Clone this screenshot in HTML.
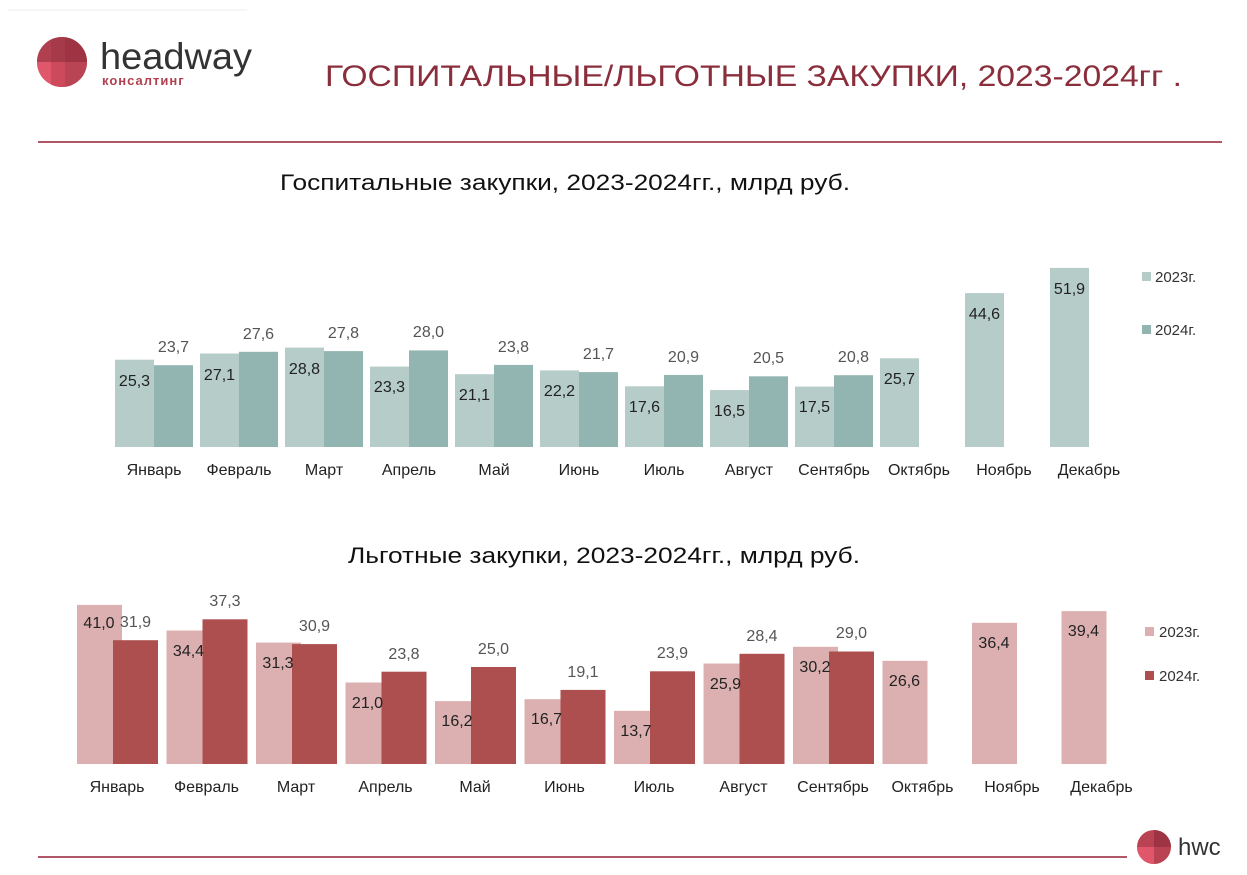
<!DOCTYPE html>
<html><head><meta charset="utf-8"><style>
body{margin:0;background:#fff;}
svg{display:block;font-family:"Liberation Sans","DejaVu Sans",sans-serif;}
</style></head><body>
<svg width="1247" height="875" viewBox="0 0 1247 875" xmlns="http://www.w3.org/2000/svg">
<line x1="8" y1="10" x2="247" y2="10" stroke="#eee" stroke-width="1"/>
<g>
<clipPath id="c1"><circle cx="62" cy="62" r="25"/></clipPath>
<g clip-path="url(#c1)">
<rect x="37" y="37" width="50" height="50" fill="#b94352"/>
<rect x="37" y="37" width="14" height="25" fill="#b04050"/>
<rect x="51" y="37" width="14" height="25" fill="#a63a48"/>
<rect x="65" y="37" width="22" height="25" fill="#9e3443"/>
<rect x="37" y="62" width="14" height="25" fill="#e0566a"/>
<rect x="51" y="62" width="14" height="25" fill="#cc4a5c"/>
<rect x="65" y="62" width="22" height="25" fill="#b84454"/>
</g>
<text x="100" y="69" font-size="37" fill="#333" textLength="152" lengthAdjust="spacingAndGlyphs">headway</text>
<text x="102" y="85" font-size="13" fill="#b04050" font-weight="bold" letter-spacing="1">консалтинг</text>
</g>
<text x="325" y="86" font-size="30" fill="#8b2e3c" textLength="857" lengthAdjust="spacingAndGlyphs">ГОСПИТАЛЬНЫЕ/ЛЬГОТНЫЕ ЗАКУПКИ, 2023-2024гг .</text>
<line x1="38" y1="142" x2="1222" y2="142" stroke="#b05868" stroke-width="2"/>
<text x="280" y="190" font-size="22" fill="#111" textLength="570" lengthAdjust="spacingAndGlyphs">Госпитальные закупки, 2023-2024гг., млрд руб.</text>

<g fill="#b5ccc8">
<rect x="115" y="359.7" width="39" height="87.3"/><rect x="200" y="353.5" width="39" height="93.5"/><rect x="285" y="347.6" width="39" height="99.4"/><rect x="370" y="366.6" width="39" height="80.4"/><rect x="455" y="374.2" width="39" height="72.8"/><rect x="540" y="370.4" width="39" height="76.6"/><rect x="625" y="386.3" width="39" height="60.7"/><rect x="710" y="390.1" width="39" height="56.9"/><rect x="795" y="386.6" width="39" height="60.4"/><rect x="880" y="358.3" width="39" height="88.7"/><rect x="965" y="293.1" width="39" height="153.9"/><rect x="1050" y="267.9" width="39" height="179.1"/>
</g>
<g fill="#93b5b1">
<rect x="154" y="365.2" width="39" height="81.8"/><rect x="239" y="351.8" width="39" height="95.2"/><rect x="324" y="351.1" width="39" height="95.9"/><rect x="409" y="350.4" width="39" height="96.6"/><rect x="494" y="364.9" width="39" height="82.1"/><rect x="579" y="372.1" width="39" height="74.9"/><rect x="664" y="374.9" width="39" height="72.1"/><rect x="749" y="376.3" width="39" height="70.7"/><rect x="834" y="375.2" width="39" height="71.8"/>
</g>
<g font-size="16" fill="#222" text-anchor="middle">
<text x="134.5" y="386">25,3</text><text x="219.5" y="380">27,1</text><text x="304.5" y="374">28,8</text><text x="389.5" y="392">23,3</text><text x="474.5" y="400">21,1</text><text x="559.5" y="396">22,2</text><text x="644.5" y="412">17,6</text><text x="729.5" y="416">16,5</text><text x="814.5" y="412">17,5</text><text x="899.5" y="384">25,7</text><text x="984.5" y="319">44,6</text><text x="1069.5" y="294">51,9</text>
</g>
<g font-size="16" fill="#555" text-anchor="middle">
<text x="173.5" y="352">23,7</text><text x="258.5" y="339">27,6</text><text x="343.5" y="338">27,8</text><text x="428.5" y="337">28,0</text><text x="513.5" y="352">23,8</text><text x="598.5" y="359">21,7</text><text x="683.5" y="362">20,9</text><text x="768.5" y="363">20,5</text><text x="853.5" y="362">20,8</text>
</g>
<g font-size="16" fill="#222" text-anchor="middle">
<text x="154" y="475">Январь</text><text x="239" y="475">Февраль</text><text x="324" y="475">Март</text><text x="409" y="475">Апрель</text><text x="494" y="475">Май</text><text x="579" y="475">Июнь</text><text x="664" y="475">Июль</text><text x="749" y="475">Август</text><text x="834" y="475">Сентябрь</text><text x="919" y="475">Октябрь</text><text x="1004" y="475">Ноябрь</text><text x="1089" y="475">Декабрь</text>
</g>
<rect x="1142" y="272" width="9" height="9" fill="#b5ccc8"/><text x="1155" y="282" font-size="15" fill="#333">2023г.</text>
<rect x="1142" y="325" width="9" height="9" fill="#93b5b1"/><text x="1155" y="335" font-size="15" fill="#333">2024г.</text>

<text x="348" y="563" font-size="22" fill="#111" textLength="512" lengthAdjust="spacingAndGlyphs">Льготные закупки, 2023-2024гг., млрд руб.</text>
<g fill="#dcb0b0">
<rect x="77" y="604.9" width="45" height="159.1"/><rect x="166.5" y="630.5" width="45" height="133.5"/><rect x="256" y="642.6" width="45" height="121.4"/><rect x="345.5" y="682.5" width="45" height="81.5"/><rect x="435" y="701.1" width="45" height="62.9"/><rect x="524.5" y="699.2" width="45" height="64.8"/><rect x="614" y="710.8" width="45" height="53.2"/><rect x="703.5" y="663.5" width="45" height="100.5"/><rect x="793" y="646.8" width="45" height="117.2"/><rect x="882.5" y="660.8" width="45" height="103.2"/><rect x="972" y="622.8" width="45" height="141.2"/><rect x="1061.5" y="611.1" width="45" height="152.9"/>
</g>
<g fill="#ad4f4f">
<rect x="113" y="640.2" width="45" height="123.8"/><rect x="202.5" y="619.3" width="45" height="144.7"/><rect x="292" y="644.1" width="45" height="119.9"/><rect x="381.5" y="671.7" width="45" height="92.3"/><rect x="471" y="667" width="45" height="97"/><rect x="560.5" y="689.9" width="45" height="74.1"/><rect x="650" y="671.3" width="45" height="92.7"/><rect x="739.5" y="653.8" width="45" height="110.2"/><rect x="829" y="651.5" width="45" height="112.5"/>
</g>
<g font-size="16" fill="#222" text-anchor="middle">
<text x="99" y="628">41,0</text><text x="188.5" y="656">34,4</text><text x="278" y="668">31,3</text><text x="367.5" y="708">21,0</text><text x="457" y="726">16,2</text><text x="546.5" y="724">16,7</text><text x="636" y="736">13,7</text><text x="725.5" y="689">25,9</text><text x="815" y="672">30,2</text><text x="904.5" y="686">26,6</text><text x="994" y="648">36,4</text><text x="1083.5" y="636">39,4</text>
</g>
<g font-size="16" fill="#555" text-anchor="middle">
<text x="135.5" y="627">31,9</text><text x="225" y="606">37,3</text><text x="314.5" y="631">30,9</text><text x="404" y="659">23,8</text><text x="493.5" y="654">25,0</text><text x="583" y="677">19,1</text><text x="672.5" y="658">23,9</text><text x="762" y="641">28,4</text><text x="851.5" y="638">29,0</text>
</g>
<g font-size="16" fill="#222" text-anchor="middle">
<text x="117" y="792">Январь</text><text x="206.5" y="792">Февраль</text><text x="296" y="792">Март</text><text x="385.5" y="792">Апрель</text><text x="475" y="792">Май</text><text x="564.5" y="792">Июнь</text><text x="654" y="792">Июль</text><text x="743.5" y="792">Август</text><text x="833" y="792">Сентябрь</text><text x="922.5" y="792">Октябрь</text><text x="1012" y="792">Ноябрь</text><text x="1101.5" y="792">Декабрь</text>
</g>
<rect x="1145" y="627" width="9" height="9" fill="#dcb0b0"/><text x="1159" y="637" font-size="15" fill="#333">2023г.</text>
<rect x="1145" y="671" width="9" height="9" fill="#ad4f4f"/><text x="1159" y="681" font-size="15" fill="#333">2024г.</text>

<line x1="38" y1="857" x2="1127" y2="857" stroke="#b05868" stroke-width="2"/>
<clipPath id="c2"><circle cx="1154" cy="847" r="17"/></clipPath>
<g clip-path="url(#c2)">
<rect x="1137" y="830" width="34" height="34" fill="#b94352"/>
<rect x="1137" y="847" width="17" height="17" fill="#e0566a"/>
<rect x="1154" y="830" width="17" height="17" fill="#9e3443"/>
</g>
<text x="1178" y="855" font-size="24" fill="#333">hwc</text>
</svg>
</body></html>
